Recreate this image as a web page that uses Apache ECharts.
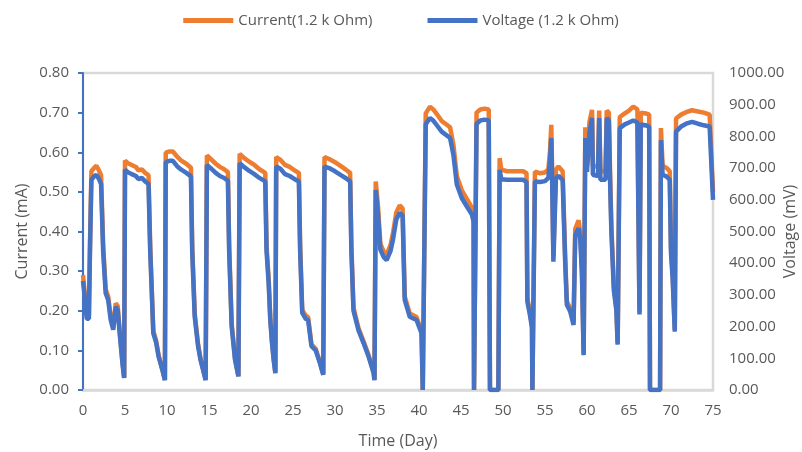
<!DOCTYPE html>
<html>
<head>
    <meta charset="utf-8"/>
    <title>Current / Voltage</title>
    <script src="https://cdn.jsdelivr.net/npm/echarts@6/dist/echarts.min.js"></script>
</head>
<body style="margin:0">
<div id="main" style="width: 802px; height: 452px;"></div>
<script type="text/javascript">
    // time in days
    var days = [
        0.0, 0.2, 0.45, 0.7, 0.83, 1.0, 1.3, 1.6, 1.9, 2.15, 2.4, 2.7, 3.0, 3.3, 3.6, 3.9, 4.13, 4.4, 4.7, 4.9,
        5.0, 5.3, 5.8, 6.3, 6.6, 7.0, 7.4, 7.8, 8.0, 8.37, 8.7, 9.0, 9.45, 9.75,
        9.85, 10.3, 10.7, 11.2, 11.7, 12.3, 12.85, 13.0, 13.3, 13.7, 14.0, 14.3, 14.6,
        14.75, 15.2, 15.8, 16.3, 16.8, 17.25, 17.4, 17.7, 18.1, 18.5,
        18.65, 19.2, 19.8, 20.4, 21.0, 21.7, 21.85, 22.1, 22.3, 22.5, 22.7, 22.9,
        23.0, 23.5, 24.05, 24.6, 25.2, 25.7, 25.85, 26.1, 26.5, 26.8, 27.2, 27.7, 28.2, 28.6,
        28.75, 29.3, 30.0, 30.7, 31.3, 31.8, 31.95, 32.2, 32.8, 33.4, 34.0, 34.6, 34.7,
        34.85, 35.1, 35.4, 35.8, 36.15, 36.6, 36.9, 37.3, 37.7, 38.05, 38.3, 38.9, 39.7, 40.3, 40.45, 40.65,
        40.8, 41.3, 41.7, 42.1, 42.7, 43.7, 44.1, 44.5, 45.1, 45.7, 46.3, 46.5, 46.55, 46.75,
        46.85, 47.3, 47.8, 48.3, 48.45, 49.45,
        49.6, 49.8, 50.5, 51.5, 52.4, 52.8, 52.9, 53.2, 53.45, 53.5, 53.7,
        53.8, 54.4, 55.0, 55.4, 55.6, 55.75, 55.85, 56.0, 56.3, 56.6, 57.1, 57.4, 57.6, 58.0, 58.4,
        58.6, 59.0, 59.2, 59.4, 59.6,
        59.8, 60.0, 60.3, 60.6, 60.7, 61.3, 61.45, 61.6, 62.2, 62.35, 62.6, 62.75, 62.9, 63.2, 63.5, 63.65,
        63.9, 64.5, 65.0, 65.5, 66.0, 66.25, 66.4, 67.0, 67.4, 67.5, 68.7,
        68.8, 69.0, 69.5, 69.85, 70.0, 70.2, 70.45,
        70.6, 71.2, 71.8, 72.5, 73.2, 73.9, 74.6, 75.0
    ];

    // current, mA
    var currentMA = [
        0.290, 0.246, 0.188, 0.188, 0.365, 0.552, 0.560, 0.566, 0.554, 0.542, 0.365, 0.254, 0.236, 0.184, 0.158, 0.219, 0.212, 0.141, 0.070, 0.031,
        0.579, 0.573, 0.568, 0.563, 0.554, 0.557, 0.548, 0.542, 0.365, 0.149, 0.125, 0.088, 0.052, 0.026,
        0.599, 0.602, 0.602, 0.589, 0.579, 0.571, 0.561, 0.365, 0.193, 0.115, 0.078, 0.052, 0.026,
        0.592, 0.583, 0.571, 0.563, 0.557, 0.550, 0.365, 0.167, 0.079, 0.035,
        0.596, 0.585, 0.576, 0.568, 0.557, 0.548, 0.365, 0.281, 0.182, 0.123, 0.079, 0.044,
        0.588, 0.581, 0.568, 0.563, 0.554, 0.548, 0.365, 0.202, 0.188, 0.184, 0.115, 0.104, 0.071, 0.040,
        0.588, 0.583, 0.575, 0.565, 0.556, 0.548, 0.365, 0.208, 0.156, 0.123, 0.088, 0.044, 0.026,
        0.526, 0.469, 0.369, 0.349, 0.342, 0.365, 0.395, 0.448, 0.466, 0.458, 0.236, 0.193, 0.184, 0.149, 0, 0,
        0.698, 0.715, 0.708, 0.697, 0.679, 0.663, 0.618, 0.540, 0.504, 0.482, 0.460, 0.443, 0, 0,
        0.700, 0.708, 0.710, 0.708, 0, 0,
        0.585, 0.556, 0.552, 0.552, 0.552, 0.547, 0.232, 0.198, 0.164, 0, 0,
        0.551, 0.547, 0.549, 0.557, 0.604, 0.669, 0.552, 0.338, 0.556, 0.564, 0.552, 0.338, 0.224, 0.206, 0.171,
        0.407, 0.428, 0.396, 0.302, 0.092,
        0.663, 0.573, 0.677, 0.707, 0.566, 0.563, 0.705, 0.552, 0.552, 0.705, 0.700, 0.547, 0.417, 0.260, 0.208, 0.119,
        0.689, 0.698, 0.705, 0.715, 0.708, 0.198, 0.700, 0.698, 0.695, 0, 0,
        0.661, 0.566, 0.560, 0.552, 0.359, 0.292, 0.153,
        0.685, 0.695, 0.701, 0.706, 0.703, 0.700, 0.695, 0.500
    ];

    // voltage, mV
    var voltageMV = [
        344, 295, 225, 225, 438, 663, 673, 679, 665, 650, 438, 305, 284, 221, 190, 263, 253, 169, 84, 38,
        695, 688, 681, 675, 665, 669, 658, 650, 438, 179, 150, 105, 63, 31,
        719, 723, 723, 706, 695, 685, 674, 438, 231, 138, 94, 63, 31,
        710, 700, 685, 675, 669, 660, 438, 200, 95, 43,
        715, 703, 691, 681, 669, 658, 438, 338, 219, 148, 95, 53,
        705, 698, 681, 675, 665, 658, 438, 243, 225, 221, 138, 125, 85, 48,
        705, 700, 690, 678, 668, 658, 438, 250, 188, 148, 105, 53, 31,
        631, 563, 443, 419, 410, 438, 474, 538, 559, 550, 284, 231, 221, 179, 0, 0,
        838, 858, 850, 836, 815, 795, 741, 648, 605, 579, 553, 531, 0, 0,
        840, 850, 853, 850, 0, 0,
        694, 665, 663, 663, 663, 656, 279, 238, 196, 0, 0,
        658, 656, 659, 669, 725, 795, 663, 405, 668, 675, 663, 405, 269, 248, 205,
        489, 510, 475, 363, 110,
        795, 688, 813, 858, 679, 675, 858, 663, 663, 858, 850, 656, 500, 313, 250, 143,
        826, 838, 844, 850, 844, 238, 838, 835, 831, 0, 0,
        788, 679, 673, 663, 431, 350, 184,
        815, 831, 840, 846, 840, 835, 831, 600
    ];

    var currentName = 'Current(1.2 k Ohm)';
    var voltageName = 'Voltage (1.2 k Ohm)';

    var currentData = days.map(function (d, i) { return [d, currentMA[i]]; });
    var voltageData = days.map(function (d, i) { return [d, voltageMV[i]]; });

    var textColor = '#595959';
    var fontFam = '"Open Sans", sans-serif';

    var chart = echarts.init(document.getElementById('main'));
    var option = {
        animation: false,
        backgroundColor: '#ffffff',
        textStyle: {fontFamily: fontFam},
        legend: {
            top: 8,
            left: 'center',
            itemWidth: 50,
            itemHeight: 5,
            itemGap: 55,
            icon: 'rect',
            textStyle: {color: textColor, fontSize: 15, fontFamily: fontFam},
            data: [currentName, voltageName]
        },
        grid: {
            left: 83,
            right: 89,
            top: 73,
            bottom: 62,
            containLabel: false,
            outerBoundsMode: 'none',
            show: true,
            borderColor: '#d9d9d9',
            borderWidth: 2.5
        },
        xAxis: {
            type: 'value',
            min: 0,
            max: 75,
            interval: 5,
            name: 'Time (Day)',
            nameLocation: 'middle',
            nameGap: 43,
            nameMoveOverlap: false,
            nameTextStyle: {color: textColor, fontSize: 16},
            axisLine: {show: true, lineStyle: {color: '#d9d9d9', width: 2.5}},
            axisTick: {show: false},
            splitLine: {show: false},
            axisLabel: {color: textColor, fontSize: 15, margin: 13}
        },
        yAxis: [
            {
                type: 'value',
                min: 0,
                max: 0.8,
                interval: 0.1,
                name: 'Current (mA)',
                nameLocation: 'middle',
                nameGap: 53,
                nameMoveOverlap: false,
                nameTextStyle: {color: textColor, fontSize: 16},
                axisLine: {show: true, lineStyle: {color: '#4472c4', width: 2}},
                axisTick: {show: true, length: 5, lineStyle: {color: '#4472c4', width: 2}},
                splitLine: {show: false},
                axisLabel: {
                    color: textColor, fontSize: 15, margin: 14,
                    formatter: function (v) { return v.toFixed(2); }
                }
            },
            {
                type: 'value',
                min: 0,
                max: 1000,
                interval: 100,
                name: 'Voltage (mV)',
                nameLocation: 'middle',
                nameGap: 69,
                nameRotate: 90,
                nameMoveOverlap: false,
                nameTextStyle: {color: textColor, fontSize: 16},
                axisLine: {show: false},
                axisTick: {show: false},
                splitLine: {show: false},
                axisLabel: {
                    color: textColor, fontSize: 15, margin: 16,
                    formatter: function (v) { return v.toFixed(2); }
                }
            }
        ],
        series: [
            {
                name: currentName,
                type: 'line',
                yAxisIndex: 0,
                showSymbol: false,
                symbol: 'none',
                lineStyle: {color: '#ed7d31', width: 4.5},
                itemStyle: {color: '#ed7d31'},
                data: currentData
            },
            {
                name: voltageName,
                type: 'line',
                yAxisIndex: 1,
                showSymbol: false,
                symbol: 'none',
                lineStyle: {color: '#4472c4', width: 4.5},
                itemStyle: {color: '#4472c4'},
                data: voltageData
            }
        ]
    };
    chart.setOption(option);
</script>
</body>
</html>
